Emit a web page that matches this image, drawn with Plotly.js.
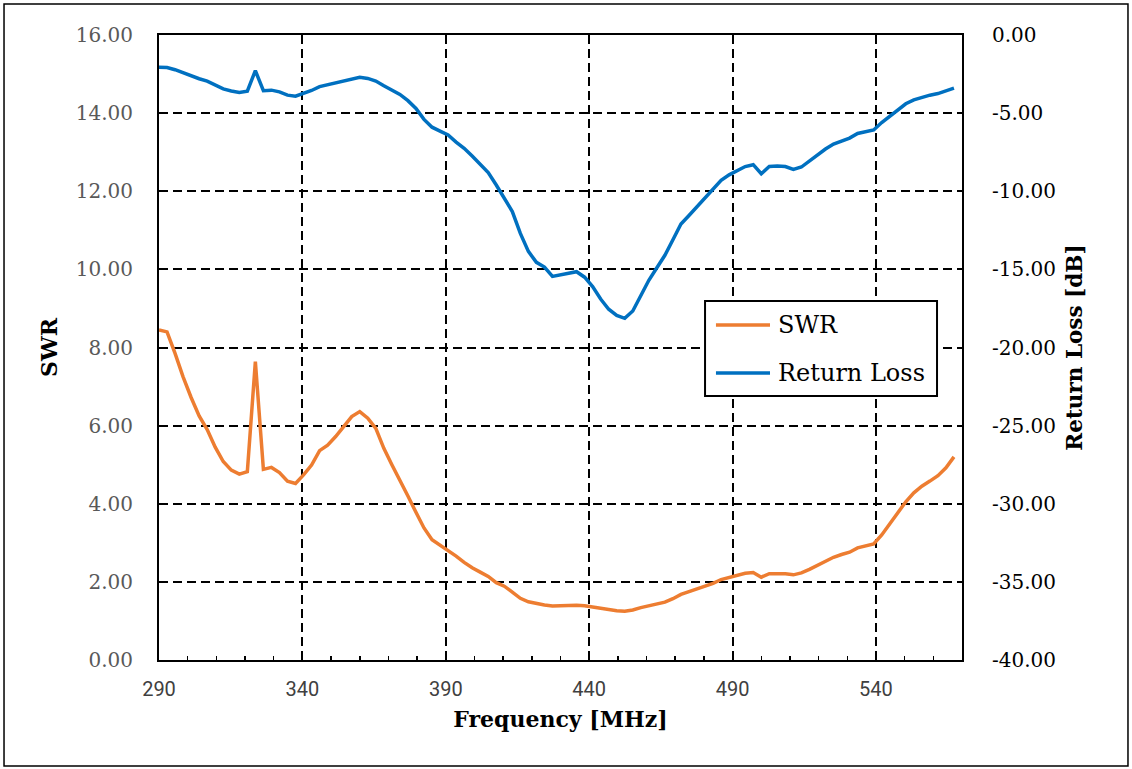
<!DOCTYPE html>
<html>
<head>
<meta charset="utf-8">
<script src="https://cdn.plot.ly/plotly-3.0.1.min.js"></script>
<style>html,body{margin:0;padding:0;background:#fff;}#chart{width:1132px;height:769px;}</style>
</head>
<body>
<div id="chart"></div>
<script>
// Frequency [MHz]
const freq = [290.0,292.8,295.6,298.4,301.2,304.0,306.8,309.6,312.4,315.2,
318.0,320.8,323.6,326.4,329.2,332.0,334.8,337.6,340.4,343.2,
346.0,348.8,351.6,354.4,357.2,360.0,362.8,365.6,368.4,371.2,
374.0,376.8,379.6,382.4,385.2,388.0,390.8,393.6,396.4,399.2,
402.0,404.8,407.6,410.4,413.2,416.0,418.8,421.6,424.4,427.2,
430.0,432.8,435.6,438.4,441.2,444.0,446.8,449.6,452.4,455.2,
458.0,460.8,463.6,466.4,469.2,472.0,474.8,477.6,480.4,483.2,
486.0,488.8,491.6,494.4,497.2,500.0,502.8,505.6,508.4,511.2,
514.0,516.8,519.6,522.4,525.2,528.0,530.8,533.6,536.4,539.2,
542.0,544.8,547.6,550.4,553.2,556.0,558.8,561.6,564.4,567.2];

// SWR (left axis)
const swr = [8.45,8.40,7.85,7.25,6.72,6.25,5.90,5.45,5.08,4.86,
4.76,4.82,7.64,4.88,4.93,4.80,4.58,4.52,4.74,4.99,
5.36,5.50,5.72,5.99,6.23,6.36,6.19,5.93,5.42,5.00,
4.61,4.20,3.78,3.38,3.08,2.94,2.82,2.66,2.50,2.36,
2.25,2.14,1.98,1.89,1.74,1.58,1.49,1.44,1.41,1.38,
1.39,1.40,1.40,1.39,1.36,1.32,1.28,1.26,1.25,1.28,
1.34,1.38,1.42,1.48,1.57,1.68,1.75,1.82,1.89,1.96,
2.06,2.12,2.17,2.22,2.24,2.12,2.21,2.22,2.21,2.18,
2.23,2.32,2.42,2.52,2.63,2.70,2.76,2.87,2.93,2.97,
3.20,3.48,3.78,4.05,4.28,4.45,4.58,4.72,4.92,5.20];

// Return Loss [dB] (right axis)
const returnLoss = [-2.07,-2.08,-2.22,-2.43,-2.62,-2.80,-2.95,-3.20,-3.45,-3.58,
-3.68,-3.60,-2.28,-3.56,-3.53,-3.64,-3.85,-3.92,-3.75,-3.55,
-3.30,-3.18,-3.07,-2.90,-2.78,-2.71,-2.78,-2.95,-3.25,-3.50,
-3.80,-4.20,-4.70,-5.40,-5.90,-6.15,-6.40,-6.85,-7.25,-7.75,
-8.25,-8.80,-9.60,-10.40,-11.30,-12.70,-13.85,-14.55,-14.85,-15.45,
-15.35,-15.22,-15.15,-15.50,-16.10,-16.90,-17.55,-17.95,-18.13,-17.66,
-16.70,-15.70,-14.90,-14.10,-13.10,-12.10,-11.55,-11.00,-10.40,-9.90,
-9.30,-8.95,-8.70,-8.42,-8.30,-8.88,-8.42,-8.38,-8.42,-8.60,
-8.45,-8.05,-7.65,-7.30,-6.98,-6.78,-6.60,-6.30,-6.18,-6.08,
-5.60,-5.20,-4.80,-4.40,-4.15,-3.98,-3.85,-3.75,-3.58,-3.40];

const xTickVals = [290,340,390,440,490,540];
const yTickVals = [0,2,4,6,8,10,12,14,16];
const yTickText = ["0.00","2.00","4.00","6.00","8.00","10.00","12.00","14.00","16.00"];
const y2TickVals = [-40,-35,-30,-25,-20,-15,-10,-5,0];
const y2TickText = ["-40.00","-35.00","-30.00","-25.00","-20.00","-15.00","-10.00","-5.00","0.00"];
const seriesNames = ["SWR","Return Loss"];

const COL_SWR = "#ED7D31";
const COL_RL = "#0070C0";
const SERIF = "'DejaVu Serif', serif";

const traces = [
  {x: freq, y: swr, name: seriesNames[0], type: "scatter", mode: "lines",
   line: {color: COL_SWR, width: 3.5}, yaxis: "y", showlegend: false, hoverinfo: "x+y"},
  {x: freq, y: returnLoss, name: seriesNames[1], type: "scatter", mode: "lines",
   line: {color: COL_RL, width: 3.5}, yaxis: "y2", showlegend: false, hoverinfo: "x+y"}
];

// custom legend box (paper coords)
const lgX0 = 0.680, lgX1 = 0.9689, lgY0 = 0.4224, lgY1 = 0.5744;
const lgRowY = [0.536, 0.4592];
const lgLineX0 = 0.6936, lgLineX1 = 0.7609, lgTextX = 0.7684;

const shapes = [
  {type: "rect", xref: "paper", yref: "paper", x0: -0.193, x1: 1.2067, y0: -0.1696, y1: 1.0496,
   line: {color: "#000", width: 1.5}, fillcolor: "rgba(0,0,0,0)", layer: "below"},
  {type: "rect", xref: "paper", yref: "paper", x0: lgX0, x1: lgX1, y0: lgY0, y1: lgY1,
   line: {color: "#000", width: 2}, fillcolor: "#fff", layer: "above"},
  {type: "line", xref: "paper", yref: "paper", x0: lgLineX0, x1: lgLineX1, y0: lgRowY[0], y1: lgRowY[0],
   line: {color: COL_SWR, width: 3.5}},
  {type: "line", xref: "paper", yref: "paper", x0: lgLineX0, x1: lgLineX1, y0: lgRowY[1], y1: lgRowY[1],
   line: {color: COL_RL, width: 3.5}}
];
const annotations = seriesNames.map((n, i) => ({
  xref: "paper", yref: "paper", x: lgTextX, y: lgRowY[i], xanchor: "left", yanchor: "middle",
  text: n, showarrow: false, font: {family: SERIF, size: 24, color: "#000"}
}));

const layout = {
  width: 1132, height: 769,
  margin: {l: 159, r: 170, t: 35, b: 109, pad: 0},
  paper_bgcolor: "#fff", plot_bgcolor: "#fff",
  showlegend: false,
  xaxis: {
    range: [290, 570], tickvals: xTickVals, ticktext: xTickVals.map(String),
    showline: true, linecolor: "#000", linewidth: 2, mirror: true,
    showgrid: true, gridcolor: "#000", gridwidth: 2, griddash: "9px,5px",
    zeroline: false, ticks: "inside", ticklen: 6, tickwidth: 2, tickcolor: "#000",
    minor: {dtick: 10, tick0: 290, ticks: "inside", ticklen: 4, tickwidth: 1.5, tickcolor: "#000", showgrid: false},
    tickfont: {family: "Roboto, sans-serif", size: 20, color: "#404040"},
    ticklabelstandoff: 10,
    title: {text: "<b>Frequency [MHz]</b>", font: {family: SERIF, size: 22, color: "#000"}, standoff: 12}
  },
  yaxis: {
    range: [0, 16], tickvals: yTickVals, ticktext: yTickText,
    showline: true, linecolor: "#000", linewidth: 2,
    showgrid: true, gridcolor: "#000", gridwidth: 2, griddash: "9px,5px",
    zeroline: false, ticks: "",
    tickfont: {family: SERIF, size: 20, color: "#595959"},
    ticklabelstandoff: 20,
    title: {text: "<b>SWR</b>", font: {family: SERIF, size: 22, color: "#000"}, standoff: 12}
  },
  yaxis2: {
    range: [-40, 0], tickvals: y2TickVals, ticktext: y2TickText,
    overlaying: "y", side: "right",
    showline: true, linecolor: "#000", linewidth: 2,
    showgrid: false, zeroline: false, ticks: "",
    tickfont: {family: SERIF, size: 20, color: "#000"},
    ticklabelstandoff: 24,
    title: {text: "<b>Return Loss [dB]</b>", font: {family: SERIF, size: 21.5, color: "#000"}, standoff: 12}
  },
  shapes: shapes,
  annotations: annotations
};

Plotly.newPlot("chart", traces, layout, {displayModeBar: false, staticPlot: true});
</script>
</body>
</html>
